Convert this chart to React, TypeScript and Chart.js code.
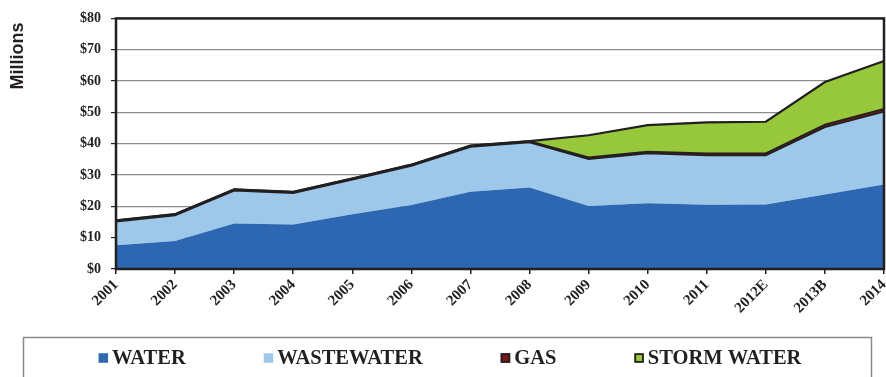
import React, { useEffect, useRef } from "react";
import { Chart, registerables } from "chart.js";

Chart.register(...registerables);

// Revenue by utility, in millions of dollars
const years = ["2001", "2002", "2003", "2004", "2005", "2006", "2007", "2008", "2009", "2010", "2011", "2012E", "2013B", "2014"];
const water = [7.6, 8.9, 14.5, 14.2, 17.5, 20.4, 24.7, 26.0, 20.1, 21.0, 20.5, 20.6, 23.8, 27.0];
const wastewater = [7.5, 8.2, 10.5, 10.0, 11.0, 12.5, 14.3, 14.4, 15.0, 15.9, 15.8, 15.7, 21.5, 23.2];
const gas = [0.4, 0.4, 0.4, 0.4, 0.4, 0.4, 0.4, 0.4, 0.5, 0.6, 0.6, 0.6, 0.8, 0.9];
const stormWater = [0, 0, 0, 0, 0, 0, 0, 0, 7.1, 8.4, 9.9, 10.1, 13.6, 15.3];

const yMin = 0;
const yMax = 80;
const yStep = 10;
const yTitle = "Millions";

const INK = "#231F20";
const SERIF = '"Liberation Serif", "Times New Roman", serif';

const frame = {
  id: "frame",
  afterDatasetsDraw(chart: any) {
    const { ctx, chartArea: a } = chart;
    ctx.save();
    ctx.strokeStyle = INK;
    ctx.lineWidth = 2.5;
    ctx.strokeRect(a.left, a.top, a.right - a.left, a.bottom - a.top);
    ctx.restore();
  },
};

const sideTitle = {
  id: "sideTitle",
  afterDraw(chart: any) {
    const { ctx } = chart;
    ctx.save();
    ctx.translate(18, 56);
    ctx.rotate(-Math.PI / 2);
    ctx.font = 'bold 18px "Liberation Sans", Arial, sans-serif';
    ctx.fillStyle = INK;
    ctx.textAlign = "center";
    ctx.textBaseline = "middle";
    ctx.fillText(yTitle, 0, 0);
    ctx.restore();
  },
};

const boxedLegend = {
  id: "boxedLegend",
  afterDraw(chart: any) {
    const { ctx } = chart;
    ctx.save();
    ctx.strokeStyle = "#8a8a8a";
    ctx.lineWidth = 1.5;
    ctx.strokeRect(23.5, 337.5, 848, 60);

    ctx.font = "bold 20.5px " + SERIF;
    ctx.textBaseline = "middle";
    ctx.textAlign = "left";
    const marker = 9.5;
    const markerGap = 4;
    const itemGap = 78;
    const items = chart.data.datasets.map((ds: any) => ({
      label: ds.label as string,
      color: ds.backgroundColor as string,
      outlined: (ds.borderWidth || 0) > 0 && ds.label !== "WASTEWATER",
      w: ctx.measureText(ds.label).width,
    }));
    const total =
      items.reduce((s: number, it: any) => s + marker + markerGap + it.w, 0) + itemGap * (items.length - 1);
    let x = 450 - total / 2;
    const cy = 358;
    for (const it of items) {
      ctx.fillStyle = it.color;
      ctx.fillRect(x, cy - marker / 2, marker, marker);
      if (it.outlined) {
        ctx.strokeStyle = INK;
        ctx.lineWidth = 1.8;
        ctx.strokeRect(x + 0.9, cy - marker / 2 + 0.9, marker - 1.8, marker - 1.8);
      }
      ctx.fillStyle = INK;
      ctx.fillText(it.label, x + marker + markerGap, cy + 1);
      x += marker + markerGap + it.w + itemGap;
    }
    ctx.restore();
  },
};

export default function App() {
  const ref = useRef<HTMLCanvasElement | null>(null);

  useEffect(() => {
    if (!ref.current) return;
    const base = { pointRadius: 0, pointHoverRadius: 0, tension: 0 };
    const chart = new Chart(ref.current, {
      type: "line",
      data: {
        labels: years,
        datasets: [
          { ...base, label: "WATER", data: water, backgroundColor: "#2E67B1", borderColor: "#2E67B1", borderWidth: 0, fill: "origin" },
          { ...base, label: "WASTEWATER", data: wastewater, backgroundColor: "#9DC8EA", borderColor: INK, borderWidth: 1.8, fill: "-1" },
          { ...base, label: "GAS", data: gas, backgroundColor: "#7E1517", borderColor: INK, borderWidth: 1.8, fill: "-1" },
          { ...base, label: "STORM WATER", data: stormWater, backgroundColor: "#97C83C", borderColor: INK, borderWidth: 2.2, fill: "-1" },
        ],
      },
      options: {
        animation: false,
        responsive: false,
        devicePixelRatio: 1,
        layout: { padding: { top: 15, right: 2, left: 0, bottom: 0 } },
        plugins: {
          legend: { display: false },
          tooltip: { enabled: false },
          filler: { drawTime: "beforeDatasetsDraw" },
        },
        scales: {
          x: {
            offset: false,
            grid: { drawOnChartArea: false, drawTicks: true, tickLength: 5, tickColor: INK, lineWidth: 1.5 },
            border: { display: false },
            ticks: {
              autoSkip: false,
              maxRotation: 45,
              minRotation: 45,
              padding: 2,
              color: INK,
              font: { family: SERIF, size: 15, weight: "bold" },
            },
            afterFit(scale: any) {
              scale.height = 108;
              scale.paddingLeft = 0;
              scale.paddingRight = 0;
            },
          },
          y: {
            stacked: true,
            min: yMin,
            max: yMax,
            grid: { color: "#8c8c8c", lineWidth: 1.2, tickColor: INK, tickLength: 5 },
            border: { display: false },
            ticks: {
              stepSize: yStep,
              padding: 10,
              color: INK,
              font: { family: SERIF, size: 14, weight: "bold" },
              callback: (v: any) => "$" + v,
            },
            afterFit(scale: any) {
              scale.width = 116;
            },
          },
        },
      },
      plugins: [frame, sideTitle, boxedLegend],
    });
    return () => chart.destroy();
  }, []);

  return (
    <div style={{ position: "absolute", left: 0, top: 0, width: 886, height: 377, background: "#fff" }}>
      <canvas ref={ref} width={886} height={377} />
    </div>
  );
}
